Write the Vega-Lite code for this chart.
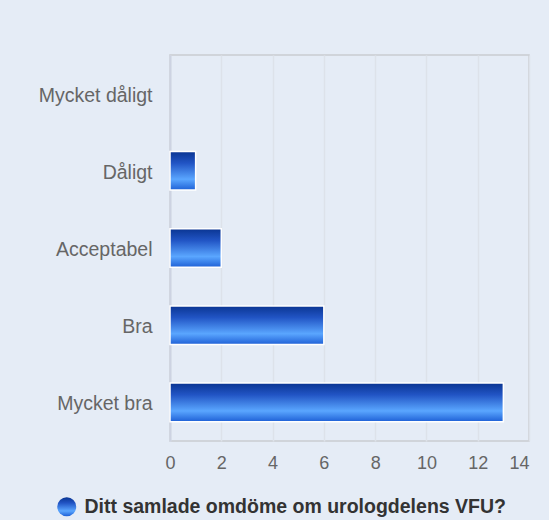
{
  "$schema": "https://vega.github.io/schema/vega-lite/v6.json",
  "width": 359,
  "height": 386,
  "autosize": {"type": "none"},
  "padding": {"left": 170, "top": 55, "right": 20, "bottom": 79},
  "background": "#e5ecf6",
  "config": {
    "font": "Liberation Sans",
    "view": {"stroke": "#c9ccd1", "strokeWidth": 1.5}
  },
  "data": {
    "values": [
      {"category": "Mycket dåligt", "value": 0, "series": "Ditt samlade omdöme om urologdelens VFU?"},
      {"category": "Dåligt", "value": 1, "series": "Ditt samlade omdöme om urologdelens VFU?"},
      {"category": "Acceptabel", "value": 2, "series": "Ditt samlade omdöme om urologdelens VFU?"},
      {"category": "Bra", "value": 6, "series": "Ditt samlade omdöme om urologdelens VFU?"},
      {"category": "Mycket bra", "value": 13, "series": "Ditt samlade omdöme om urologdelens VFU?"}
    ]
  },
  "mark": {
    "type": "bar",
    "strokeWidth": 1.5,
    "fill": {
      "gradient": "linear",
      "x1": 0, "y1": 0, "x2": 0, "y2": 1,
      "stops": [
        {"offset": 0, "color": "#0a3592"},
        {"offset": 0.3, "color": "#2154c4"},
        {"offset": 0.72, "color": "#5aa6ff"},
        {"offset": 1, "color": "#1e60d6"}
      ]
    }
  },
  "encoding": {
    "y": {
      "field": "category",
      "type": "nominal",
      "sort": ["Mycket dåligt", "Dåligt", "Acceptabel", "Bra", "Mycket bra"],
      "scale": {"paddingInner": 0.5, "paddingOuter": 0.25},
      "axis": {
        "title": null,
        "ticks": false,
        "labelFontSize": 19.5,
        "labelColor": "#666666",
        "labelPadding": 18,
        "labelOffset": 2,
        "domainColor": "#cdd3e2",
        "domainWidth": 2,
        "grid": false
      }
    },
    "x": {
      "field": "value",
      "type": "quantitative",
      "scale": {"domain": [0, 14], "nice": false},
      "axis": {
        "title": null,
        "values": [0, 2, 4, 6, 8, 10, 12, 14],
        "ticks": false,
        "domain": false,
        "labelFontSize": 18,
        "labelColor": "#666666",
        "labelPadding": 13,
        "labelAlign": {"condition": {"test": "datum.value == 14", "value": "right"}, "value": "center"},
        "gridColor": "#dde2ea",
        "gridWidth": 1.5
      }
    },
    "stroke": {
      "field": "series",
      "type": "nominal",
      "scale": {"range": ["#ffffff"]},
      "legend": {
        "title": null,
        "orient": "none",
        "legendX": -113,
        "legendY": 442,
        "padding": 0,
        "symbolType": "circle",
        "symbolSize": 360,
        "symbolStrokeWidth": 0,
        "labelFontSize": 19.5,
        "labelFontWeight": "bold",
        "labelColor": "#333333",
        "labelOffset": 8,
        "labelLimit": 600,
        "encode": {
          "symbols": {
            "update": {
              "fill": {"value": {
                "gradient": "linear",
                "x1": 0, "y1": 0, "x2": 1, "y2": 0,
                "stops": [
                  {"offset": 0, "color": "#4a90f5"},
                  {"offset": 0.5, "color": "#1f5fd6"},
                  {"offset": 1, "color": "#0a2a80"}
                ]
              }},
              "strokeWidth": {"value": 0},
              "opacity": {"value": 1}
            }
          }
        }
      }
    },
    "strokeOpacity": {"condition": {"test": "datum.value == 0", "value": 0}, "value": 1}
  }
}
